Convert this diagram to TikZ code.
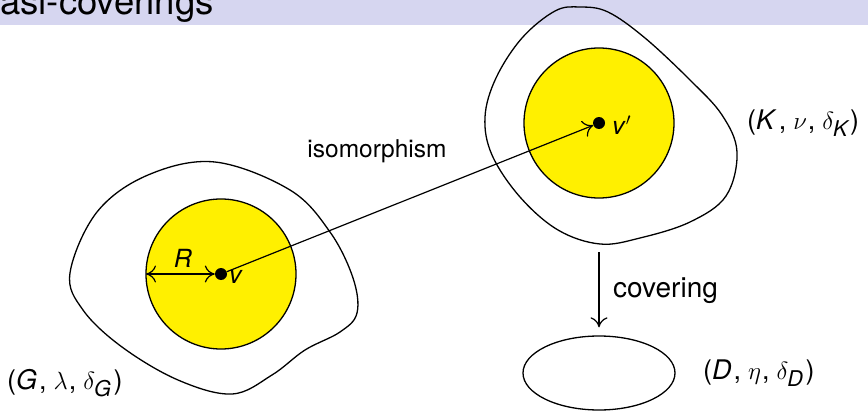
\documentclass[tikz,border=0pt]{standalone}
\usepackage{amsmath}
\usepackage{fontspec}
\setmainfont{TeX Gyre Heros}
\usetikzlibrary{arrows.meta,shapes.geometric}
\definecolor{barbg}{RGB}{214,214,240}
\definecolor{ballyellow}{RGB}{255,240,0}
\newcommand{\grk}[1]{{\fontsize{31}{34}\selectfont$#1$}}
\newcommand{\trip}[3]{(\textit{#1}\kern2pt,\hspace{7pt}\grk{#2}\kern1pt,\hspace{7pt}\grk{\delta_{\textit{#3}}}\kern2pt)}
\begin{document}
\begin{tikzpicture}[x=1pt,y=-1pt,
  outline/.style={line width=1.3pt,black},
  ball/.style={fill=ballyellow,draw=black,line width=1.3pt},
  vdot/.style={circle,fill=black,inner sep=0pt,minimum size=12pt},
  tip/.tip={To[length=10pt,width=17pt,line width=1.2pt]},
  arr/.style={line width=1.2pt,-tip},
  lbl/.style={inner sep=0pt,font=\fontsize{24.5}{29}\selectfont},
  vlbl/.style={inner sep=0pt,font=\fontsize{25}{30}\selectfont},
  mlbl/.style={inner sep=0pt,font=\fontsize{27}{32}\selectfont}]
\useasboundingbox (0,0) rectangle (868,412);
% title bar
\fill[barbg] (0,0) rectangle (868,25);
\node[anchor=base east,inner sep=0pt,font=\fontsize{36.5}{40}\selectfont] (title) at (214,15) {quasi-coverings};
% left blob
\draw[outline] plot[smooth cycle,tension=0.6] coordinates {(70,273) (97,212) (148,175) (215,162) (290,190) (330,232) (353,278) (357,313) (340,332) (305,350) (272,375) (232,394) (178,380) (122,347) (83,310)};
\draw[ball] (221,274) circle (75);
% right blob
\draw[outline] plot[smooth cycle,tension=0.6] coordinates {(580,7) (608,12) (645,38) (690,80) (722,115) (737,152) (726,196) (690,222) (640,238) (600,244) (558,230) (520,197) (492,155) (485,117) (496,78) (522,38) (555,11)};
\draw[ball] (599,123) circle (75);
% dots
\node[vdot] (v) at (221,274) {};
\node[vdot] (vp) at (599,123) {};
\coordinate (redge) at (146,274);
% lower ellipse
\node[ellipse,draw,line width=1.3pt,minimum width=152pt,minimum height=74pt,inner sep=0pt] (D) at (599,373) {};
\coordinate (covstart) at (599,252);
% connectors
\draw[arr] (v) -- (vp);
\draw[line width=1.2pt,tip-tip] (redge) -- (v.west);
\draw[arr,shorten >=8pt] (covstart) -- (D.north);
% labels
\node[lbl,anchor=base] (iso) at (377,157) {isomorphism};
\node[lbl,font=\fontsize{28}{32}\selectfont,anchor=base west] (cov) at (613,297) {covering};
\node[vlbl,anchor=base] (Rl) at (183,267) {\textit{R}};
\node[vlbl,anchor=base west] (vl) at (229,283) {\textit{v}};
\node[vlbl,anchor=base west] (vpl) at (612,135) {\textit{v}$'$};
\node[mlbl,anchor=west] (Kl) at (747,123) {\trip{K}{\nu}{K}};
\node[mlbl,anchor=west] (Dl) at (703,373) {\trip{D}{\eta}{D}};
\node[mlbl,anchor=west] (Gl) at (7,383) {\trip{G}{\lambda}{G}};
\end{tikzpicture}
\end{document}
